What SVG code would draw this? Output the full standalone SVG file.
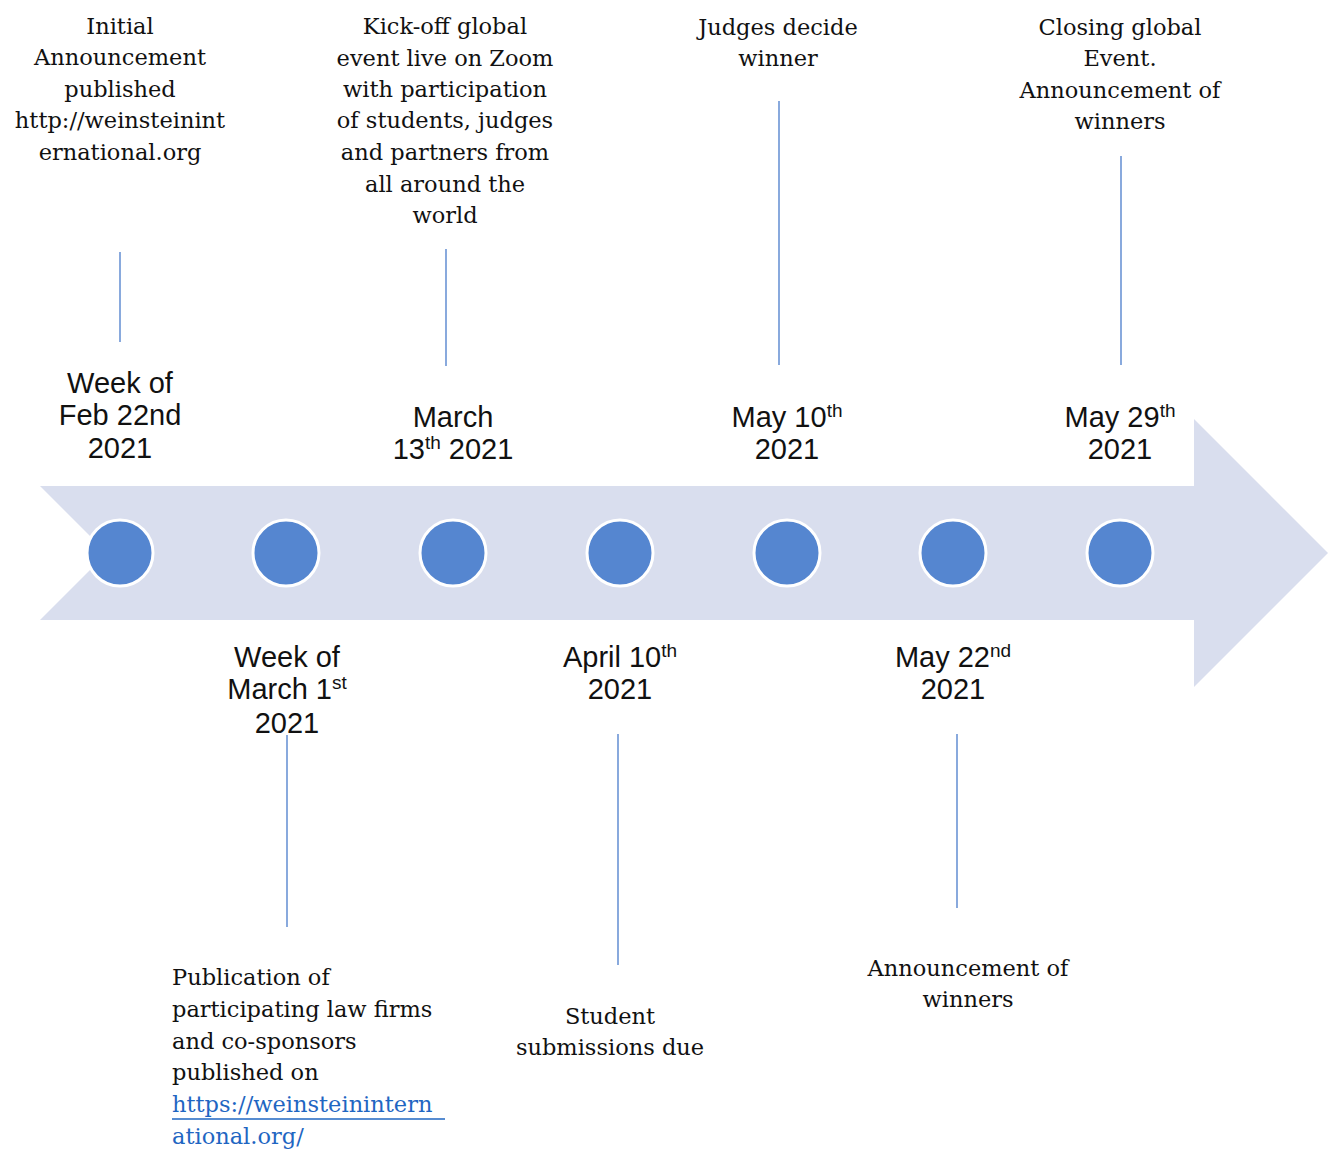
<svg xmlns="http://www.w3.org/2000/svg" width="1330" height="1149" viewBox="0 0 1330 1149">
<style>
.ser{font-family:"DejaVu Serif","Liberation Serif",serif;font-size:22.5px;fill:#111;text-anchor:middle}
.serl{font-family:"DejaVu Serif","Liberation Serif",serif;font-size:22.5px;fill:#111}
.lnk{fill:#1F66C2}
.dt{font-family:"Liberation Sans",Arial,sans-serif;font-size:29px;fill:#111;text-anchor:middle}
.sup{font-size:19px}
.dot{fill:#5586D0;stroke:#fff;stroke-width:3}
.con{stroke:#4A7CCB;stroke-width:1.3;fill:none}
</style>
<rect width="1330" height="1149" fill="#fff"/>
<g id="arrow">
<polygon points="40,486 1194,486 1194,419 1328,553 1194,687 1194,620 40,620 107,553" fill="#D9DEEE"/>
</g>
<g id="connectors">
<line class="con" x1="120" y1="252" x2="120" y2="342"/>
<line class="con" x1="446" y1="249" x2="446" y2="366"/>
<line class="con" x1="779" y1="101" x2="779" y2="365"/>
<line class="con" x1="1121" y1="156" x2="1121" y2="365"/>
<line class="con" x1="287" y1="735" x2="287" y2="927"/>
<line class="con" x1="618" y1="734" x2="618" y2="965"/>
<line class="con" x1="957" y1="734" x2="957" y2="908"/>
</g>
<g id="dots">
<circle class="dot" cx="120" cy="553" r="33"/>
<circle class="dot" cx="286" cy="553" r="33"/>
<circle class="dot" cx="453" cy="553" r="33"/>
<circle class="dot" cx="620" cy="553" r="33"/>
<circle class="dot" cx="787" cy="553" r="33"/>
<circle class="dot" cx="953" cy="553" r="33"/>
<circle class="dot" cx="1120" cy="553" r="33"/>
</g>
<g id="n1">
<text class="ser"><tspan x="120" y="34">Initial</tspan><tspan x="120" y="65">Announcement</tspan><tspan x="120" y="97">published</tspan><tspan x="120" y="128">http://weinsteinint</tspan><tspan x="120" y="160">ernational.org</tspan></text>
<text class="dt"><tspan x="120" y="393">Week of</tspan><tspan x="120" y="425">Feb 22nd</tspan><tspan x="120" y="458">2021</tspan></text>
</g>
<g id="n2">
<text class="dt"><tspan x="287" y="667">Week of</tspan><tspan x="287" y="699">March 1<tspan class="sup" dy="-10">st</tspan></tspan><tspan x="287" y="733">2021</tspan></text>
<text class="serl"><tspan x="172" y="985">Publication of</tspan><tspan x="172" y="1017">participating law firms</tspan><tspan x="172" y="1049">and co-sponsors</tspan><tspan x="172" y="1080">published on</tspan><tspan class="lnk" x="172" y="1112">https://weinsteinintern</tspan><tspan class="lnk" x="172" y="1144">ational.org/</tspan></text>
<line x1="172" y1="1119" x2="445" y2="1119" stroke="#1F66C2" stroke-width="1.5"/>
</g>
<g id="n3">
<text class="ser"><tspan x="445" y="34">Kick-off global</tspan><tspan x="445" y="66">event live on Zoom</tspan><tspan x="445" y="97">with participation</tspan><tspan x="445" y="128">of students, judges</tspan><tspan x="445" y="160">and partners from</tspan><tspan x="445" y="192">all around the</tspan><tspan x="445" y="223">world</tspan></text>
<text class="dt"><tspan x="453" y="427">March</tspan><tspan x="453" y="459">13<tspan class="sup" dy="-10">th</tspan><tspan dy="10"> 2021</tspan></tspan></text>
</g>
<g id="n4">
<text class="dt"><tspan x="620" y="667">April 10<tspan class="sup" dy="-10">th</tspan></tspan><tspan x="620" y="699">2021</tspan></text>
<text class="ser"><tspan x="610" y="1024">Student</tspan><tspan x="610" y="1055">submissions due</tspan></text>
</g>
<g id="n5">
<text class="ser"><tspan x="778" y="35">Judges decide</tspan><tspan x="778" y="66">winner</tspan></text>
<text class="dt"><tspan x="787" y="427">May 10<tspan class="sup" dy="-10">th</tspan></tspan><tspan x="787" y="459">2021</tspan></text>
</g>
<g id="n6">
<text class="dt"><tspan x="953" y="667">May 22<tspan class="sup" dy="-10">nd</tspan></tspan><tspan x="953" y="699">2021</tspan></text>
<text class="ser"><tspan x="968" y="976">Announcement of</tspan><tspan x="968" y="1007">winners</tspan></text>
</g>
<g id="n7">
<text class="ser"><tspan x="1120" y="35">Closing global</tspan><tspan x="1120" y="66">Event.</tspan><tspan x="1120" y="98">Announcement of</tspan><tspan x="1120" y="129">winners</tspan></text>
<text class="dt"><tspan x="1120" y="427">May 29<tspan class="sup" dy="-10">th</tspan></tspan><tspan x="1120" y="459">2021</tspan></text>
</g>
</svg>
